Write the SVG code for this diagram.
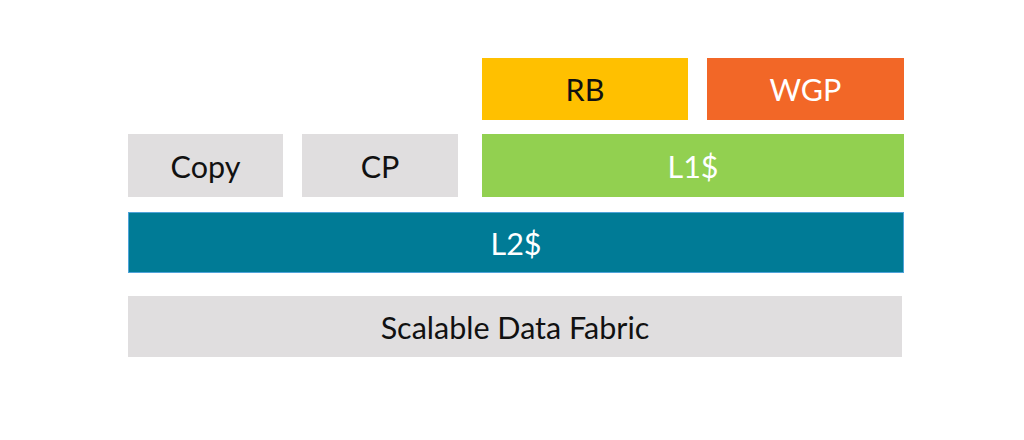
<svg xmlns="http://www.w3.org/2000/svg" width="1024" height="440" viewBox="0 0 1024 440">
<style>
.lbl{font-family:Lato,"Open Sans","Liberation Sans",sans-serif;font-size:30.5px;text-anchor:middle;dominant-baseline:central}
.dark{fill:#111}
.light{fill:#fff}
.gray{fill:#E0DEDF}
</style>
<rect width="1024" height="440" fill="#fff"/>
<g id="copy"><rect class="gray" x="128" y="134" width="155" height="63"/><text class="lbl dark" x="205.5" y="165.5">Copy</text></g>
<g id="cp"><rect class="gray" x="302" y="134" width="156" height="63"/><text class="lbl dark" x="380" y="165.5">CP</text></g>
<g id="rb"><rect fill="#FFC000" x="482" y="58" width="206" height="62"/><text class="lbl dark" x="585" y="89">RB</text></g>
<g id="wgp"><rect fill="#F26727" x="707" y="58" width="197" height="62"/><text class="lbl light" x="805.5" y="89">WGP</text></g>
<g id="l1"><rect fill="#92D050" x="482" y="134" width="422" height="63"/><text class="lbl light" x="693" y="165.5">L1$</text></g>
<g id="l2"><rect fill="#007B96" stroke="#4FA3D9" stroke-width="1" x="128.5" y="212.5" width="775" height="60"/><text class="lbl light" x="516" y="242.5">L2$</text></g>
<g id="sdf"><rect class="gray" x="128" y="296" width="774" height="61"/><text class="lbl dark" x="515" y="326.5">Scalable Data Fabric</text></g>
<g id="connectors"></g>
</svg>
